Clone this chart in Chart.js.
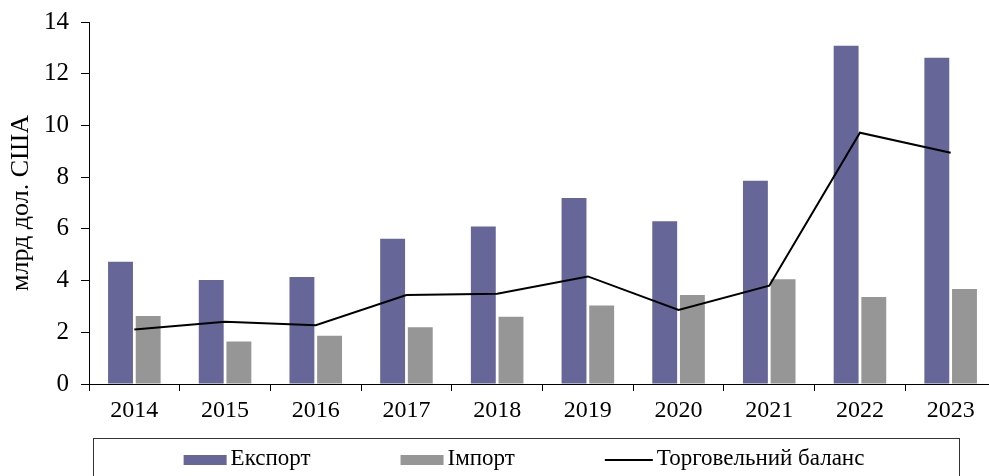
<!DOCTYPE html>
<html>
<head>
<meta charset="utf-8">
<script src="https://cdn.jsdelivr.net/npm/chart.js@4.4.1/dist/chart.umd.min.js"></script>
<style>
  html, body { margin: 0; padding: 0; background: #fff; overflow: hidden; }
  canvas { display: block; }
</style>
</head>
<body>
<canvas id="myChart" width="1000" height="476"></canvas>
<script>
const years = ['2014', '2015', '2016', '2017', '2018', '2019', '2020', '2021', '2022', '2023'];
const exportVals = [4.73, 4.02, 4.14, 5.62, 6.09, 7.19, 6.29, 7.86, 13.08, 12.62];
const importVals = [2.63, 1.64, 1.87, 2.19, 2.60, 3.04, 3.44, 4.05, 3.36, 3.67];
const balanceVals = [2.11, 2.41, 2.27, 3.44, 3.49, 4.16, 2.86, 3.80, 9.72, 8.94];
const yTicks = [0, 2, 4, 6, 8, 10, 12, 14];

const serif = '"Liberation Serif", "Times New Roman", serif';
Chart.defaults.font.family = serif;
Chart.defaults.color = '#000';

// legend in a framed box under the axis
const boxLegend = {
  id: 'boxLegend',
  afterDraw(chart) {
    const c = chart.ctx;
    const top = 438, left = chart.chartArea.left + 4, right = left + 866;
    c.save();
    c.strokeStyle = '#333';
    c.lineWidth = 1;
    c.strokeRect(left + 0.5, top + 0.5, right - left, 60);
    c.font = Chart.helpers.toFont({ family: serif, size: 23 }).string;
    c.textBaseline = 'middle';
    c.textAlign = 'left';
    const gapTxt = 4, gapItem = 90;
    const items = chart.data.datasets.map(ds => {
      const sw = ds.type === 'line' ? 48 : 43;
      return { ds, sw, w: sw + gapTxt + c.measureText(ds.label).width };
    });
    const total = items.reduce((s, it) => s + it.w, 0) + gapItem * (items.length - 1);
    let x = (left + right) / 2 - total / 2 - 2;
    const cy = 460;
    items.forEach(it => {
      if (it.ds.type === 'line') {
        c.strokeStyle = '#000';
        c.lineWidth = 2;
        c.beginPath();
        c.moveTo(x, cy);
        c.lineTo(x + it.sw, cy);
        c.stroke();
      } else {
        c.fillStyle = it.ds.backgroundColor;
        c.fillRect(x, cy - 5, it.sw, 10);
      }
      c.fillStyle = '#000';
      c.fillText(it.ds.label, x + it.sw + gapTxt, cy - 1);
      x += it.w + gapItem;
    });
    c.restore();
  }
};

new Chart(document.getElementById('myChart'), {
  type: 'bar',
  data: {
    labels: years,
    datasets: [
      {
        label: 'Експорт',
        data: exportVals,
        backgroundColor: '#666699',
        barPercentage: 0.9,
        categoryPercentage: 0.61,
        order: 1
      },
      {
        label: 'Імпорт',
        data: importVals,
        backgroundColor: '#969696',
        barPercentage: 0.9,
        categoryPercentage: 0.61,
        order: 1
      },
      {
        label: 'Торговельний баланс',
        type: 'line',
        data: balanceVals,
        borderColor: '#000',
        backgroundColor: '#000',
        borderWidth: 2,
        pointRadius: 0,
        tension: 0,
        order: 0
      }
    ]
  },
  options: {
    responsive: false,
    animation: false,
    layout: { padding: { top: 22, right: 4, bottom: 38, left: 0 } },
    plugins: {
      legend: { display: false },
      tooltip: { enabled: false }
    },
    scales: {
      x: {
        grid: { offset: true, drawOnChartArea: false, tickLength: 7, color: '#000', lineWidth: 1 },
        border: { color: '#000', width: 1 },
        ticks: { font: { size: 24 }, padding: 5, maxRotation: 0 },
        afterFit(scale) { scale.height = 54; }
      },
      y: {
        min: 0,
        max: 14,
        afterBuildTicks(scale) { scale.ticks = yTicks.map(v => ({ value: v })); },
        grid: { drawOnChartArea: false, tickLength: 8, color: '#000', lineWidth: 1 },
        border: { color: '#000', width: 1 },
        ticks: { font: { size: 25 }, padding: 12 },
        title: { display: true, text: 'млрд дол. США', font: { size: 26 }, padding: { top: 6, bottom: 0 } },
        afterFit(scale) {
          scale.width = 89;
          scale.paddingTop = 0;
          scale.paddingBottom = 0;
        }
      }
    }
  },
  plugins: [boxLegend]
});
</script>
</body>
</html>
